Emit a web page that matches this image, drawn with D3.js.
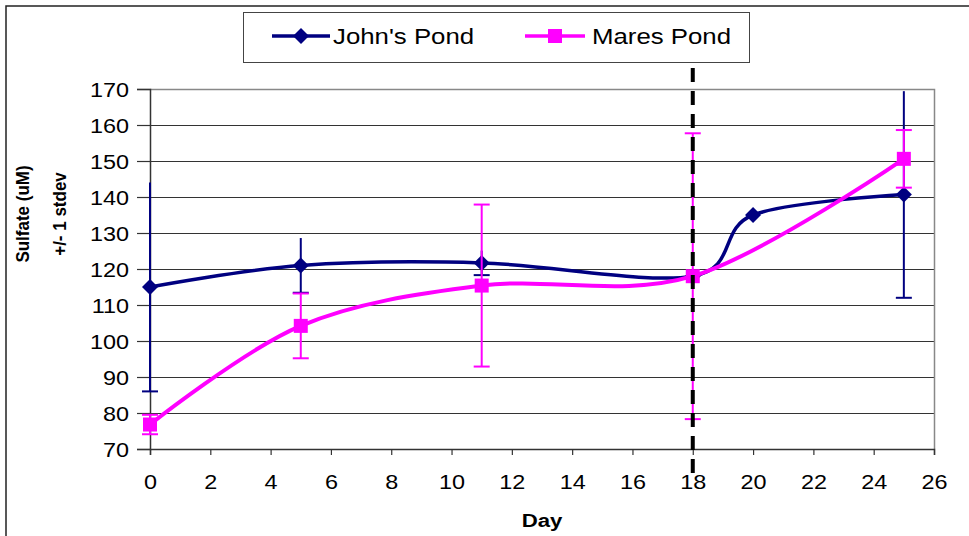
<!DOCTYPE html>
<html>
<head>
<meta charset="utf-8">
<script src="https://cdn.jsdelivr.net/npm/d3@7"></script>
<style>
  html, body { margin: 0; padding: 0; background: #fff; }
  svg { display: block; font-family: Arial, "Liberation Sans", sans-serif; }
</style>
</head>
<body>
<svg id="chart" width="969" height="536"></svg>
<script>
// Sulfate concentration over time for two ponds, mean ± 1 standard deviation
const johnDays  = [0, 5, 11, 18, 20, 25];
const johnMean  = [115, 121, 121.7, 118, 135, 140.7];
const johnSd    = [29, 7.6, 3.4, 0, 0, 28.7];

const maresDays = [0, 5, 11, 18, 25];
const maresMean = [76.8, 104.2, 115.4, 118, 150.6];
const maresSd   = [2.7, 9, 22.5, 39.7, 8];

const xTicks = d3.range(0, 27, 2);
const yTicks = d3.range(70, 171, 10);
const eventDay = 18;

const seriesNames = ["John's Pond", "Mares Pond"];
const colors = ["#000080", "#FF00FF"];

const SX = 1.2; // horizontal text stretch

const svg = d3.select("#chart");
const W = 969, H = 536;
const plot = { left: 150, right: 934, top: 89, bottom: 449 };

const x = d3.scaleLinear().domain([0, 26]).range([plot.left, plot.right]);
const y = d3.scaleLinear().domain([70, 170]).range([plot.bottom, plot.top]);

// outer frame (top and left edges)
svg.append("path")
  .attr("d", `M6,${H} L6,6 L${W},6`)
  .attr("fill", "none").attr("stroke", "#222").attr("stroke-width", 1.5);

// horizontal gridlines
svg.append("g").selectAll("line").data(yTicks.filter(v => v > 70 && v < 170)).join("line")
  .attr("x1", plot.left).attr("x2", plot.right)
  .attr("y1", d => Math.round(y(d)) + 0.5).attr("y2", d => Math.round(y(d)) + 0.5)
  .attr("stroke", "#333").attr("stroke-width", 1);

// plot-area border (top, right)
svg.append("path")
  .attr("d", `M${plot.left},${plot.top + 0.5} L${plot.right + 0.5},${plot.top + 0.5} L${plot.right + 0.5},${plot.bottom}`)
  .attr("fill", "none").attr("stroke", "#888").attr("stroke-width", 1.5);

// y axis
const yAxis = svg.append("g").attr("transform", `translate(${plot.left},0)`)
  .call(d3.axisLeft(y).tickValues(yTicks).tickSize(13).tickPadding(0).tickFormat(d3.format("d")));
yAxis.select(".domain").attr("stroke", "#333").attr("stroke-width", 1.5);
yAxis.selectAll(".tick line").attr("stroke", "#333").attr("stroke-width", 1.2);
yAxis.selectAll(".tick text").remove();
yAxis.selectAll(".tick").append("text")
  .attr("transform", `translate(-21,0) scale(${SX},1)`)
  .attr("text-anchor", "end").attr("dy", "0.36em")
  .attr("font-size", 19.5).attr("fill", "#000")
  .text(d => d);

// x axis
const xAxis = svg.append("g").attr("transform", `translate(0,${plot.bottom})`)
  .call(d3.axisBottom(x).tickValues(xTicks).tickSize(6).tickFormat(d3.format("d")));
xAxis.select(".domain").attr("stroke", "#333").attr("stroke-width", 1.5);
xAxis.selectAll(".tick line").attr("stroke", "#333").attr("stroke-width", 1.2);
xAxis.selectAll(".tick text").remove();
xAxis.selectAll(".tick").append("text")
  .attr("transform", `translate(0,40) scale(${SX},1)`)
  .attr("text-anchor", "middle")
  .attr("font-size", 19.5).attr("fill", "#000")
  .text(d => d);

// axis titles
svg.append("text")
  .attr("transform", `translate(${(plot.left + plot.right) / 2},527) scale(${SX},1)`)
  .attr("text-anchor", "middle").attr("font-size", 18.5).attr("font-weight", "bold")
  .text("Day");
svg.append("text")
  .attr("transform", `translate(29,214) scale(1.1,1) rotate(-90)`)
  .attr("text-anchor", "middle").attr("font-size", 17).attr("font-weight", "bold")
  .text("Sulfate (uM)");
svg.append("text")
  .attr("transform", `translate(66,214) scale(1.1,1) rotate(-90)`)
  .attr("text-anchor", "middle").attr("font-size", 17).attr("font-weight", "bold")
  .text("+/- 1 stdev");

// clip for data drawn inside the plot area
svg.append("clipPath").attr("id", "plotClip")
  .append("rect").attr("x", plot.left - 20).attr("y", plot.top).attr("width", plot.right - plot.left + 40).attr("height", plot.bottom - plot.top);

const dataG = svg.append("g").attr("clip-path", "url(#plotClip)");

const johnPts = johnDays.map((d, i) => ({ x: d, m: johnMean[i], s: johnSd[i] }));
const maresPts = maresDays.map((d, i) => ({ x: d, m: maresMean[i], s: maresSd[i] }));

const line = d3.line().x(d => x(d.x)).y(d => y(d.m)).curve(d3.curveCardinal.tension(0));

// error bars
function errorBars(pts, color, upperCap) {
  const g = dataG.append("g").attr("stroke", color).attr("stroke-width", 2);
  pts.filter(p => p.s > 0).forEach(p => {
    const cx = x(p.x);
    g.append("line").attr("x1", cx).attr("x2", cx).attr("y1", y(p.m + p.s)).attr("y2", y(p.m - p.s));
    g.append("line").attr("x1", cx - 8).attr("x2", cx + 8).attr("y1", y(p.m - p.s)).attr("y2", y(p.m - p.s));
    if (upperCap) g.append("line").attr("x1", cx - 8).attr("x2", cx + 8).attr("y1", y(p.m + p.s)).attr("y2", y(p.m + p.s));
  });
}

// John's Pond series
errorBars(johnPts, colors[0], false);
dataG.append("path").datum(johnPts).attr("d", line)
  .attr("fill", "none").attr("stroke", colors[0]).attr("stroke-width", 3.5);
dataG.append("g").selectAll("path").data(johnPts).join("path")
  .attr("transform", d => `translate(${x(d.x)},${y(d.m)})`)
  .attr("d", "M0,-8 L8,0 L0,8 L-8,0 Z").attr("fill", colors[0]);

// Mares Pond series
errorBars(maresPts, colors[1], true);
dataG.append("path").datum(maresPts).attr("d", line)
  .attr("fill", "none").attr("stroke", colors[1]).attr("stroke-width", 4);
dataG.append("g").selectAll("rect").data(maresPts).join("rect")
  .attr("x", d => x(d.x) - 7).attr("y", d => y(d.m) - 7)
  .attr("width", 14).attr("height", 14).attr("fill", colors[1]);

// event marker
svg.append("line")
  .attr("x1", x(eventDay)).attr("x2", x(eventDay)).attr("y1", 68).attr("y2", 478)
  .attr("stroke", "#000").attr("stroke-width", 4).attr("stroke-dasharray", "14,9");

// legend
const lg = svg.append("g");
lg.append("rect").attr("x", 243.5).attr("y", 12.5).attr("width", 506).attr("height", 50)
  .attr("fill", "#fff").attr("stroke", "#444").attr("stroke-width", 1);
const legendItems = [
  { x0: 272, x1: 330, tx: 333, name: seriesNames[0], color: colors[0], shape: "diamond" },
  { x0: 525, x1: 585, tx: 592, name: seriesNames[1], color: colors[1], shape: "square" }
];
legendItems.forEach(it => {
  lg.append("line").attr("x1", it.x0).attr("x2", it.x1).attr("y1", 36).attr("y2", 36)
    .attr("stroke", it.color).attr("stroke-width", 3.5);
  const cx = (it.x0 + it.x1) / 2;
  if (it.shape === "diamond") {
    lg.append("path").attr("transform", `translate(${cx},36)`).attr("d", "M0,-8 L8,0 L0,8 L-8,0 Z").attr("fill", it.color);
  } else {
    lg.append("rect").attr("x", cx - 7).attr("y", 29).attr("width", 14).attr("height", 14).attr("fill", it.color);
  }
  lg.append("text").attr("transform", `translate(${it.tx},36) scale(${SX},1)`)
    .attr("dy", "0.36em").attr("font-size", 21.5).attr("fill", "#000").text(it.name);
});
</script>
</body>
</html>
